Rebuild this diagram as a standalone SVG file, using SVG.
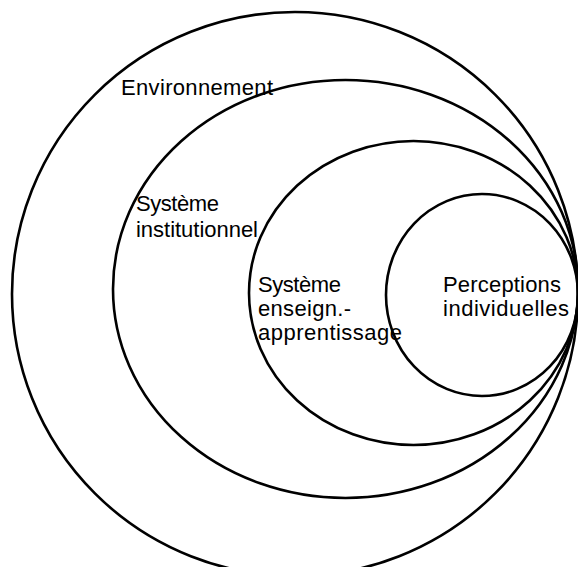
<svg xmlns="http://www.w3.org/2000/svg" width="578" height="567" viewBox="0 0 578 567">
<style>
.c{fill:none;stroke:#000;stroke-width:2.6}
.t{font-family:"Liberation Sans",Arial,sans-serif;font-size:22px;fill:#000}
</style>
<rect width="578" height="567" fill="#fff"/>
<g id="environnement">
<ellipse class="c" cx="295" cy="294" rx="283" ry="282"/>
<text class="t" x="121" y="95" textLength="152">Environnement</text>
</g>
<g id="systeme-institutionnel">
<ellipse class="c" cx="345.5" cy="289" rx="232.5" ry="209"/>
<text class="t" x="136" y="211" textLength="83">Système</text>
<text class="t" x="136" y="237" textLength="122">institutionnel</text>
</g>
<g id="systeme-enseignement">
<ellipse class="c" cx="413.5" cy="293" rx="164.5" ry="152"/>
<text class="t" x="258" y="292" textLength="83">Système</text>
<text class="t" x="258" y="316" textLength="93">enseign.-</text>
<text class="t" x="258" y="340" textLength="144">apprentissage</text>
</g>
<g id="perceptions">
<ellipse class="c" cx="482" cy="295" rx="96" ry="101"/>
<text class="t" x="443" y="292" textLength="118">Perceptions</text>
<text class="t" x="443" y="316" textLength="126">individuelles</text>
</g>
<g id="connectors"/>
</svg>
